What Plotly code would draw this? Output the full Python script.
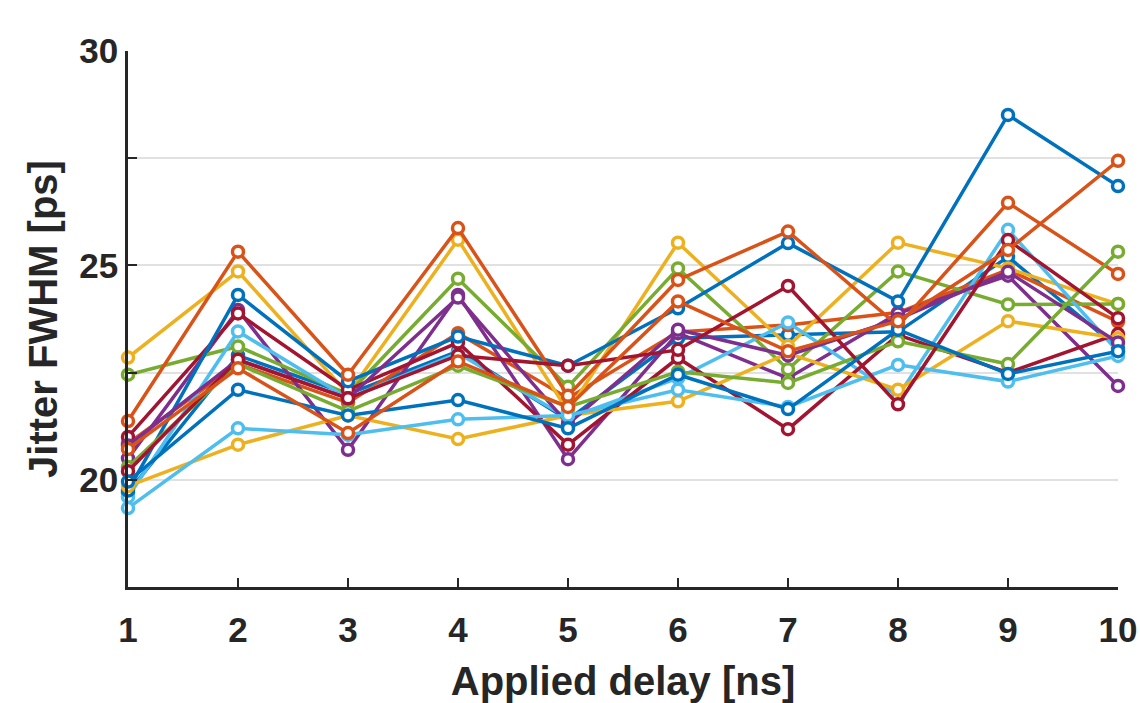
import plotly.graph_objects as go

delay_ns = [1, 2, 3, 4, 5, 6, 7, 8, 9, 10]

# Jitter FWHM [ps] per measurement series (MATLAB default colour order)
s01_blue    = [19.70, 22.90, 22.00, 23.00, 21.40, 23.30, 23.38, 23.45, 25.20, 23.07]
s02_orange  = [20.85, 22.70, 21.80, 23.42, 21.90, 23.45, 23.61, 23.90, 24.90, 23.69]
s03_yellow  = [22.85, 24.86, 22.00, 25.60, 21.60, 25.53, 23.12, 25.53, 24.93, 24.10]
s04_purple  = [20.50, 23.96, 20.70, 24.31, 20.48, 23.42, 22.37, 23.88, 24.76, 22.19]
s05_green   = [22.45, 23.11, 22.00, 24.69, 22.17, 24.93, 22.58, 24.86, 24.09, 24.10]
s06_ltblue  = [19.60, 23.46, 21.90, 22.95, 21.44, 22.37, 23.67, 21.95, 25.83, 22.99]
s07_darkred = [21.00, 23.88, 22.10, 23.20, 20.82, 22.84, 21.18, 23.38, 22.50, 23.40]
s08_blue    = [19.75, 24.31, 22.30, 23.34, 22.66, 24.00, 25.52, 24.16, 28.51, 26.85]
s09_orange  = [21.37, 25.32, 22.45, 25.87, 21.96, 24.66, 25.79, 23.59, 26.46, 24.80]
s10_yellow  = [19.85, 20.82, 21.50, 20.95, 21.50, 21.83, 22.95, 22.10, 23.70, 23.30]
s11_purple  = [20.80, 22.80, 21.90, 24.25, 21.30, 23.50, 22.90, 23.75, 24.85, 23.20]
s12_green   = [20.30, 22.70, 21.60, 22.66, 21.70, 22.52, 22.26, 23.23, 22.70, 25.32]
s13_ltblue  = [19.34, 21.20, 21.05, 21.41, 21.50, 22.10, 21.70, 22.68, 22.29, 22.89]
s14_darkred = [20.20, 22.80, 21.90, 22.90, 22.66, 23.03, 24.52, 21.76, 25.59, 23.77]
s15_blue    = [19.96, 22.10, 21.50, 21.86, 21.20, 22.45, 21.65, 23.50, 22.47, 23.00]
s16_orange  = [20.72, 22.60, 21.09, 22.76, 21.70, 24.16, 23.00, 23.70, 25.36, 27.44]

series = [s01_blue, s02_orange, s03_yellow, s04_purple, s05_green, s06_ltblue,
          s07_darkred, s08_blue, s09_orange, s10_yellow, s11_purple, s12_green,
          s13_ltblue, s14_darkred, s15_blue, s16_orange]

colors = ['#0072BD', '#D95319', '#EDB120', '#7E2F8E', '#77AC30', '#4DBEEE', '#A2142F']

y_tickvals = [17.5, 20, 22.5, 25, 27.5, 30]
y_ticktext = ['', '20', '', '25', '', '30']

fig = go.Figure()
for i, ys in enumerate(series):
    c = colors[i % len(colors)]
    fig.add_trace(go.Scatter(
        x=delay_ns, y=ys, mode='lines+markers',
        line=dict(color=c, width=3.5),
        marker=dict(symbol='circle', size=11, color='white',
                    line=dict(color=c, width=3.5)),
        cliponaxis=False, showlegend=False, hoverinfo='skip'))

axis_color = '#262626'
font_family = 'Liberation Sans, Arial, sans-serif'

fig.update_layout(
    width=1140, height=703,
    margin=dict(l=128, r=22, t=51, b=116),
    paper_bgcolor='white', plot_bgcolor='white',
    font=dict(family=font_family, color=axis_color),
    xaxis=dict(
        range=[1, 10], tickvals=delay_ns, ticktext=[str(v) for v in delay_ns],
        ticks='inside', ticklen=9, tickwidth=2, tickcolor=axis_color,
        showline=True, linecolor=axis_color, linewidth=2.5,
        showgrid=False, zeroline=False, ticklabelstandoff=10,
        ticklabeloverflow='allow', automargin=False,
        tickfont=dict(size=35, family=font_family, weight='bold', color=axis_color),
        title=dict(text='Applied delay [ns]', standoff=22,
                   font=dict(size=40, family=font_family, weight='bold', color=axis_color)),
    ),
    yaxis=dict(
        range=[17.5, 30], tickvals=y_tickvals, ticktext=y_ticktext,
        ticks='inside', ticklen=9, tickwidth=2, tickcolor=axis_color,
        showline=True, linecolor=axis_color, linewidth=2.5, automargin=False,
        showgrid=True, gridcolor='#e1e1e1', gridwidth=2, zeroline=False,
        tickfont=dict(size=35, family=font_family, weight='bold', color=axis_color),
        title=dict(text='Jitter FWHM [ps]', standoff=10,
                   font=dict(size=40, family=font_family, weight='bold', color=axis_color)),
    ),
)

fig.write_html('out.html',
               config={'displayModeBar': False},
               post_script="document.body.style.margin='0';document.body.style.overflow='hidden';")
